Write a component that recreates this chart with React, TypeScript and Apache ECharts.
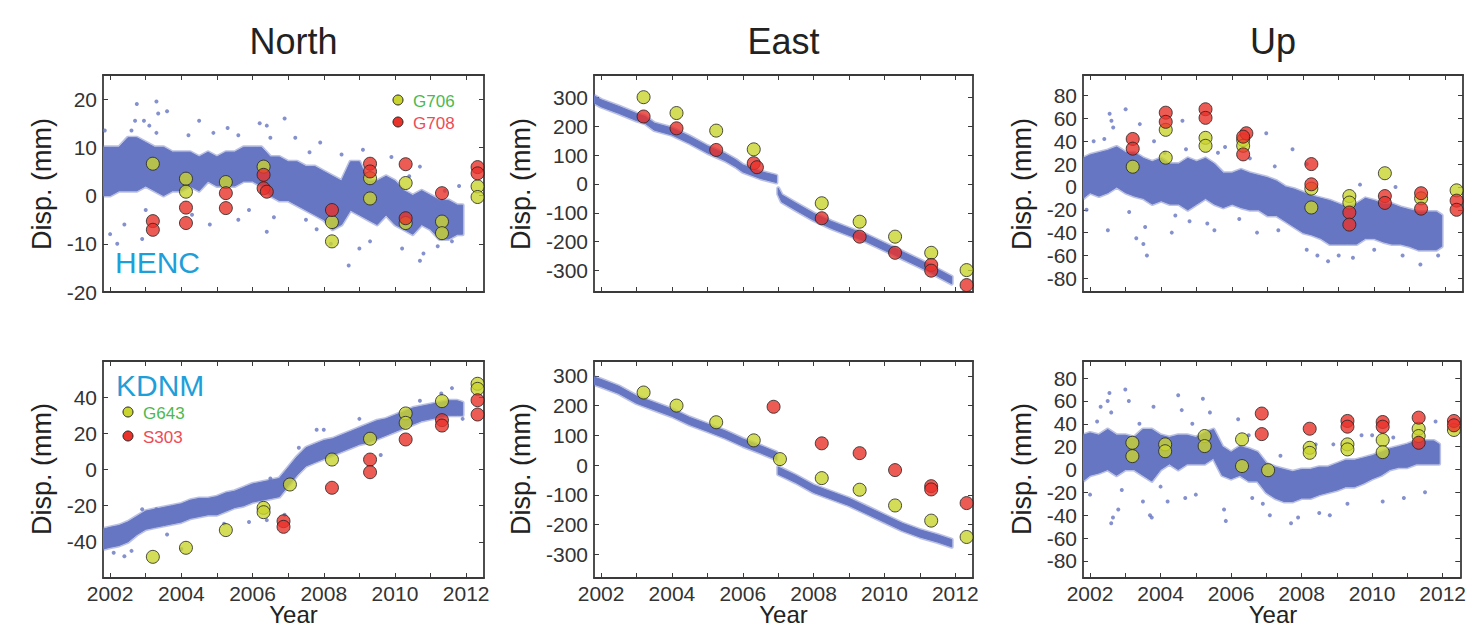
import React, { useEffect, useRef } from "react";
import * as echarts from "echarts";

// ---------- shared axis values ----------
const yearTicks = [2002, 2003, 2004, 2005, 2006, 2007, 2008, 2009, 2010, 2011, 2012];
const yearLabels = [2002, 2004, 2006, 2008, 2010, 2012];
const panelTitles = ["North", "East", "Up"];

// band sample years (dense GPS cloud envelope)
const bandYears = [2001.8, 2002.0, 2002.25, 2002.5, 2002.75, 2003.0, 2003.25, 2003.5, 2003.75, 2004.0, 2004.25, 2004.5, 2004.75, 2005.0, 2005.25, 2005.5, 2005.75, 2006.0, 2006.25, 2006.5, 2006.75, 2007.0, 2007.25, 2007.5, 2007.75, 2008.0, 2008.25, 2008.5, 2008.75, 2009.0, 2009.25, 2009.5, 2009.75, 2010.0, 2010.25, 2010.5, 2010.75, 2011.0, 2011.25, 2011.5, 2011.75, 2011.9];

// ---------- HENC North ----------
const hencNorthHi = [10, 10, 10, 12, 12, 11, 10, 10, 9, 9, 9, 8, 9, 8, 9, 9, 10, 10, 10, 8, 8, 7, 7, 6, 6, 5, 4, 3, 7, 7, 3, 3, 4, 3, 1, 0, 1, 0, -1, -1, -2, -2];
const hencNorthLo = [0, 0, 1, 1, 1, 2, 1, 0, 1, 1, 2, 1, 3, 2, 2, 2, 3, 3, 2, 0, -1, -1, -2, -3, -4, -5, -7, -6, -3, -4, -5, -6, -4, -6, -7, -8, -6, -7, -9, -9, -8, -8];
const hencNorthScatter = [[2002.75, 19], [2003.3, 19.5], [2003.35, 17], [2003.6, 17.5], [2002.7, 15.5], [2003.1, 14.5], [2004.5, 15.5], [2004.9, 13], [2005.3, 14], [2006.2, 15], [2006.4, 14.5], [2006.9, 16], [2007.2, 12], [2007.9, 11], [2008.5, 8.5], [2009.9, 8], [2010.7, 6], [2011.8, 2], [2002.4, -6], [2002.2, -10], [2002.0, -8], [2003.0, -3], [2004.3, -4], [2004.8, -6], [2005.6, -5], [2006.4, -7.5], [2006.6, -4.5], [2007.5, -5], [2007.8, -7], [2008.7, -14.5], [2009.0, -11], [2009.3, -9.5], [2010.2, -11], [2010.7, -13.5], [2010.8, -12], [2011.2, -10.5], [2011.6, -9.5], [2001.85, 13.5], [2002.9, -9], [2005.9, -3], [2008.2, -10], [2002.6, 13.5], [2003.3, 13], [2004.2, 12.5], [2005.6, 12.5], [2006.5, 12], [2002.95, 15.5], [2007.6, 9], [2009.1, 9.5], [2010.4, 4], [2011.4, 1]];
const hencNorthG706 = [[2003.2, 6.6], [2004.13, 3.5], [2004.13, 0.8], [2005.25, 2.8], [2006.31, 6.0], [2008.23, -5.5], [2008.23, -9.5], [2009.3, 3.6], [2009.3, -0.6], [2010.3, 2.6], [2010.3, -5.7], [2011.32, -5.4], [2011.32, -7.8], [2012.32, 1.9], [2012.32, -0.3]];
const hencNorthG708 = [[2003.2, -5.3], [2003.2, -7.1], [2004.13, -2.5], [2004.13, -5.7], [2005.25, 0.5], [2005.25, -2.6], [2006.31, 4.3], [2006.31, 1.5], [2006.4, 0.8], [2008.23, -3.0], [2009.3, 6.6], [2009.3, 5.0], [2010.3, 6.5], [2010.3, -4.7], [2011.32, 0.5], [2012.32, 5.9], [2012.32, 4.6]];

// ---------- HENC East ----------
const hencEastYears = [2001.8, 2002.0, 2002.5, 2003.0, 2003.25, 2003.5, 2004.0, 2004.5, 2005.0, 2005.5, 2005.8, 2006.0, 2006.5, 2006.95, 2006.97, 2007.0, 2007.1, 2007.5, 2008.0, 2008.5, 2009.0, 2009.5, 2010.0, 2010.5, 2011.0, 2011.5, 2011.9];
const hencEastHi = [306, 292, 269, 244, 234, 211, 194, 165, 132, 105, 84, 66, 43, 29, null, -15, -38, -67, -102, -130, -154, -177, -206, -235, -264, -296, -322];
const hencEastLo = [282, 268, 245, 220, 210, 187, 170, 141, 108, 81, 60, 42, 19, 5, null, -35, -62, -91, -126, -154, -178, -201, -230, -259, -288, -320, -346];
const hencEastG706 = [[2003.2, 301], [2004.13, 246], [2005.25, 185], [2006.31, 120], [2008.23, -67], [2009.3, -131], [2010.3, -183], [2011.32, -239], [2012.32, -299]];
const hencEastG708 = [[2003.2, 234], [2004.13, 193], [2005.25, 118], [2006.31, 72], [2006.4, 58], [2008.23, -119], [2009.3, -183], [2010.3, -239], [2011.32, -281], [2011.32, -301], [2012.32, -351]];

// ---------- HENC Up ----------
const hencUpHi = [25, 28, 30, 32, 35, 30, 30, 25, 22, 25, 20, 20, 25, 22, 25, 20, 12, 12, 15, 12, 10, 8, 5, 0, -2, -5, -8, -10, -12, -15, -18, -15, -10, -12, -15, -15, -18, -20, -22, -22, -22, -25];
const hencUpLo = [-10, -5, -8, -5, 0, -5, -8, -10, -15, -12, -15, -15, -20, -15, -10, -15, -18, -15, -18, -20, -20, -25, -25, -30, -35, -40, -42, -45, -50, -50, -50, -50, -45, -45, -48, -50, -50, -52, -55, -55, -55, -52];
const hencUpScatter = [[2002.55, 64], [2002.6, 58], [2002.65, 52], [2003.0, 68], [2003.4, 55], [2002.5, -38], [2003.3, -45], [2003.5, -50], [2003.6, -60], [2003.55, -35], [2004.3, -40], [2004.6, 58], [2004.8, -30], [2005.3, -32], [2005.5, -38], [2006.7, -40], [2006.96, 47], [2007.7, 33], [2008.1, -55], [2008.4, -60], [2008.7, -65], [2009.0, -60], [2009.4, -62], [2010.0, -55], [2010.8, -60], [2011.3, -68], [2011.8, -60], [2001.9, -20], [2002.1, 40], [2003.8, 40], [2004.1, 30], [2005.8, 35], [2008.1, 20], [2002.4, 42], [2003.2, 38], [2004.7, 33], [2005.6, 30], [2006.5, 25], [2007.2, 18], [2009.6, 2], [2010.6, 0], [2003.1, -22], [2004.4, -25], [2006.2, -28], [2007.3, -38]];
const hencUpG706 = [[2003.2, 17.7], [2004.13, 50], [2004.13, 25.6], [2005.25, 43], [2005.25, 36], [2006.31, 41], [2006.31, 36], [2008.23, -1.5], [2008.23, -18], [2009.3, -8], [2009.3, -13.7], [2010.3, 12], [2011.32, -10], [2012.32, -3]];
const hencUpG708 = [[2003.2, 42], [2003.2, 33.5], [2004.13, 65], [2004.13, 57], [2005.25, 68], [2005.25, 60.5], [2006.4, 47], [2006.31, 44], [2006.31, 28.5], [2008.23, 20], [2008.23, 2.3], [2009.3, -22.4], [2009.3, -33], [2010.3, -8], [2010.3, -14], [2011.32, -5.5], [2011.32, -19], [2012.32, -12], [2012.32, -20]];

// ---------- KDNM North ----------
const kdnmNorthHi = [-33, -32, -31, -29, -26, -23, -22, -21, -20, -19, -17, -16, -16, -15, -13, -12, -10, -8, -7, -6, -5, 1, 7, 12, 14, 16, 17, 19, 21, 23, 25, 27, 28, 30, 32, 34, 35, 36, 37, 38, 38, 37];
const kdnmNorthLo = [-44, -43, -42, -40, -36, -33, -32, -31, -30, -29, -27, -26, -25, -25, -23, -21, -20, -18, -17, -16, -15, -9, -3, 2, 4, 6, 8, 10, 12, 14, 15, 17, 19, 21, 23, 25, 27, 28, 29, 30, 30, 30];
const kdnmNorthScatter = [[2002.4, -48], [2002.6, -45], [2002.9, -22], [2003.3, -22], [2004.0, -44], [2005.2, -30], [2006.5, -5], [2006.9, -25], [2007.3, 12], [2007.8, 22], [2008.0, 22], [2009.0, 28], [2009.6, 8], [2010.7, 38], [2011.3, 42], [2011.6, 45], [2011.9, 28], [2005.9, -29], [2006.4, -28], [2002.1, -46], [2003.6, -36]];
const kdnmNorthG643 = [[2003.2, -48.3], [2004.13, -43.3], [2005.25, -33.5], [2006.31, -21.2], [2006.31, -23.6], [2007.05, -8.3], [2008.23, 5.5], [2009.3, 17], [2010.3, 31], [2010.3, 25.8], [2011.32, 37.8], [2012.32, 47.4], [2012.32, 44.6]];
const kdnmNorthS303 = [[2006.87, -28.6], [2006.87, -31.7], [2008.23, -10.1], [2009.3, 5.5], [2009.3, -1.5], [2010.3, 16.6], [2011.32, 27.3], [2011.32, 24.3], [2012.32, 38.3], [2012.32, 30.4]];

// ---------- KDNM East ----------
const kdnmEastYears = [2001.8, 2002.0, 2002.5, 2003.0, 2003.5, 2004.0, 2004.5, 2005.0, 2005.5, 2006.0, 2006.5, 2006.95, 2006.97, 2007.0, 2007.2, 2007.5, 2008.0, 2008.5, 2009.0, 2009.5, 2010.0, 2010.5, 2011.0, 2011.5, 2011.9];
const kdnmEastHi = [296, 288, 265, 232, 210, 188, 160, 138, 115, 88, 65, 43, null, -7, -18, -35, -68, -90, -112, -140, -168, -196, -218, -235, -251];
const kdnmEastLo = [272, 264, 241, 208, 186, 164, 136, 114, 91, 64, 41, 19, null, -31, -42, -59, -92, -114, -136, -164, -192, -220, -242, -259, -275];
const kdnmEastG643 = [[2003.2, 244], [2004.13, 200], [2005.25, 144], [2006.31, 83], [2007.05, 20], [2008.23, -44], [2009.3, -83], [2010.3, -136], [2011.32, -187], [2012.32, -242]];
const kdnmEastS303 = [[2006.87, 196], [2008.23, 73], [2009.3, 40], [2010.3, -17], [2011.32, -71], [2011.32, -82], [2012.32, -128]];

// ---------- KDNM Up ----------
const kdnmUpHi = [30, 32, 30, 35, 30, 30, 28, 35, 35, 30, 28, 30, 30, 28, 32, 35, 20, 15, 20, 18, 15, 5, 2, 0, -2, 0, 0, 2, 2, 5, 8, 8, 10, 12, 15, 18, 20, 22, 25, 25, 25, 22];
const kdnmUpLo = [-10, -5, -3, 0, -5, 0, 0, -5, -10, 0, 5, 0, 5, 5, 5, 10, -5, -8, -5, -10, -10, -20, -25, -28, -28, -25, -25, -22, -20, -18, -15, -15, -12, -8, -5, 0, 2, 2, 5, 5, 5, 5];
const kdnmUpScatter = [[2002.5, 60], [2002.55, 67], [2002.6, 50], [2002.3, 55], [2003.0, 70], [2003.1, 60], [2003.8, 55], [2004.5, 65], [2004.6, 52], [2005.2, 62], [2005.4, 50], [2006.2, 44], [2002.6, -47], [2002.65, -42], [2002.8, -35], [2002.0, -22], [2003.5, -28], [2003.7, -40], [2003.75, -42], [2004.2, -28], [2004.7, -25], [2005.0, -22], [2005.8, -35], [2005.85, -45], [2006.6, -25], [2007.1, -40], [2007.7, -47], [2007.9, -42], [2008.5, -38], [2008.8, -40], [2009.3, -30], [2010.3, -28], [2010.9, -25], [2011.5, -20], [2008.4, 22], [2008.9, 22], [2009.7, 30], [2010.0, 30], [2011.8, 42], [2002.2, 42], [2003.4, 40], [2004.9, 40], [2006.5, 30], [2007.4, 12], [2004.0, -15], [2002.9, -18], [2006.9, -30], [2010.6, 28]];
const kdnmUpG643 = [[2003.2, 23.4], [2003.2, 11.7], [2004.13, 22], [2004.13, 16], [2005.25, 29.3], [2005.25, 20.5], [2006.31, 26.4], [2006.31, 3], [2007.05, -0.6], [2008.23, 19], [2008.23, 14.6], [2009.3, 22], [2009.3, 17.6], [2010.3, 25.8], [2010.3, 15.2], [2011.32, 35.7], [2011.32, 29.3], [2012.32, 34.6]];
const kdnmUpS303 = [[2006.87, 49], [2006.87, 31], [2008.23, 35.7], [2009.3, 42.5], [2009.3, 37.5], [2010.3, 41.6], [2010.3, 37.5], [2011.32, 45.4], [2011.32, 23.4], [2012.32, 42.5], [2012.32, 38.7]];

// ---------- axis ranges / labels ----------
const northTopLabels = [-20, -10, 0, 10, 20];
const eastLabels = [-300, -200, -100, 0, 100, 200, 300];
const upLabels = [-80, -60, -40, -20, 0, 20, 40, 60, 80];
const northBottomLabels = [-40, -20, 0, 20, 40];

const FONT = "'Liberation Sans', Arial, Helvetica, sans-serif";
const BLUE = "#6676c2";
const YELLOW = "#c9d42e";
const RED = "#e8322a";
const AXIS = "#3a3a3a";

type Panel = {
  grid: { left: number; top: number; width: number; height: number };
  yMin: number; yMax: number; yLabels: number[];
  years: number[]; hi: (number | null)[]; lo: (number | null)[];
  scatter: number[][]; yellow: number[][]; red: number[][];
  showX: boolean;
};

const panels: Panel[] = [
  { grid: { left: 103, top: 75, width: 381, height: 217 }, yMin: -20, yMax: 25, yLabels: northTopLabels, years: bandYears, hi: hencNorthHi, lo: hencNorthLo, scatter: hencNorthScatter, yellow: hencNorthG706, red: hencNorthG708, showX: false },
  { grid: { left: 594, top: 75, width: 379, height: 217 }, yMin: -375, yMax: 378, yLabels: eastLabels, years: hencEastYears, hi: hencEastHi, lo: hencEastLo, scatter: [], yellow: hencEastG706, red: hencEastG708, showX: false },
  { grid: { left: 1083, top: 75, width: 380, height: 217 }, yMin: -92, yMax: 98, yLabels: upLabels, years: bandYears, hi: hencUpHi, lo: hencUpLo, scatter: hencUpScatter, yellow: hencUpG706, red: hencUpG708, showX: false },
  { grid: { left: 103, top: 361, width: 381, height: 217 }, yMin: -60, yMax: 60, yLabels: northBottomLabels, years: bandYears, hi: kdnmNorthHi, lo: kdnmNorthLo, scatter: kdnmNorthScatter, yellow: kdnmNorthG643, red: kdnmNorthS303, showX: true },
  { grid: { left: 594, top: 361, width: 379, height: 217 }, yMin: -380, yMax: 350, yLabels: eastLabels, years: kdnmEastYears, hi: kdnmEastHi, lo: kdnmEastLo, scatter: [], yellow: kdnmEastG643, red: kdnmEastS303, showX: true },
  { grid: { left: 1083, top: 361, width: 380, height: 217 }, yMin: -95, yMax: 95, yLabels: upLabels, years: bandYears, hi: kdnmUpHi, lo: kdnmUpLo, scatter: kdnmUpScatter, yellow: kdnmUpG643, red: kdnmUpS303, showX: true },
];

// split each envelope into contiguous runs (a null marks a data gap)
function bandRuns(p: Panel) {
  const runs: { x: number; lo: number; hi: number }[][] = [];
  let cur: { x: number; lo: number; hi: number }[] = [];
  p.years.forEach((x, k) => {
    const lo = p.lo[k], hi = p.hi[k];
    if (lo == null || hi == null) {
      if (cur.length) runs.push(cur);
      cur = [];
    } else cur.push({ x, lo, hi });
  });
  if (cur.length) runs.push(cur);
  return runs;
}

function buildOption() {
  const grids: any[] = [];
  const xAxes: any[] = [];
  const yAxes: any[] = [];
  const series: any[] = [];
  const fmt = (v: number) => String(v);

  panels.forEach((p, i) => {
    grids.push({ ...p.grid, containLabel: false });
    const lineStyle = { color: AXIS, width: 1.8 };
    const tickStyle = { color: AXIS, width: 1 };
    xAxes.push({
      type: "value", gridIndex: i, min: 2001.8, max: 2012.5, position: "bottom",
      axisLine: { show: true, onZero: false, lineStyle },
      axisTick: { show: true, inside: true, length: 5, customValues: yearTicks, lineStyle: tickStyle },
      axisLabel: { show: p.showX, customValues: yearLabels, formatter: fmt, fontSize: 21, color: "#333", margin: 5, fontFamily: FONT },
      splitLine: { show: false },
    });
    xAxes.push({
      type: "value", gridIndex: i, min: 2001.8, max: 2012.5, position: "top",
      axisLine: { show: true, onZero: false, lineStyle },
      axisTick: { show: true, inside: true, length: 5, customValues: yearTicks, lineStyle: tickStyle },
      axisLabel: { show: false },
      splitLine: { show: false },
    });
    yAxes.push({
      type: "value", gridIndex: i, min: p.yMin, max: p.yMax, position: "left",
      axisLine: { show: true, onZero: false, lineStyle },
      axisTick: { show: true, inside: true, length: 5, customValues: p.yLabels, lineStyle: tickStyle },
      axisLabel: { show: true, customValues: p.yLabels, formatter: fmt, fontSize: 21, color: "#333", margin: 6, fontFamily: FONT },
      splitLine: { show: false },
    });
    yAxes.push({
      type: "value", gridIndex: i, min: p.yMin, max: p.yMax, position: "right",
      axisLine: { show: true, onZero: false, lineStyle },
      axisTick: { show: true, inside: true, length: 5, customValues: p.yLabels, lineStyle: tickStyle },
      axisLabel: { show: false },
      splitLine: { show: false },
    });

    const runs = bandRuns(p);
    series.push({
      type: "custom", xAxisIndex: 2 * i, yAxisIndex: 2 * i, silent: true, z: 1, clip: true,
      encode: { x: 0, y: 1 },
      data: runs.map((run, r) => [run[0].x, run[0].lo, r]),
      renderItem: (_params: any, api: any) => {
        const run = runs[api.value(2)];
        const pts: number[][] = [];
        run.forEach((s) => pts.push(api.coord([s.x, s.lo])));
        for (let k = run.length - 1; k >= 0; k--) pts.push(api.coord([run[k].x, run[k].hi]));
        return {
          type: "group",
          children: [
            { type: "polygon", shape: { points: pts }, style: { fill: BLUE, stroke: BLUE, lineWidth: 4, opacity: 0.45, lineJoin: "round" } },
            { type: "polygon", shape: { points: pts }, style: { fill: BLUE, stroke: BLUE, lineWidth: 1 } },
          ],
        };
      },
    });
    if (p.scatter.length) {
      series.push({
        type: "scatter", xAxisIndex: 2 * i, yAxisIndex: 2 * i, silent: true, z: 2,
        symbolSize: 4, itemStyle: { color: BLUE }, data: p.scatter,
      });
    }
    series.push({
      type: "scatter", xAxisIndex: 2 * i, yAxisIndex: 2 * i, silent: true, z: 3, clip: false,
      symbolSize: 13, itemStyle: { color: YELLOW, borderColor: "#222", borderWidth: 1 }, data: p.yellow,
    });
    series.push({
      type: "scatter", xAxisIndex: 2 * i, yAxisIndex: 2 * i, silent: true, z: 4, clip: false,
      symbolSize: 13, itemStyle: { color: RED, borderColor: "#222", borderWidth: 1 }, data: p.red,
    });
  });

  const graphics: any[] = [];
  const titleX = [293.5, 783.5, 1273];
  panelTitles.forEach((t, i) => {
    graphics.push({ type: "text", x: titleX[i], y: 41, style: { text: t, fill: "#222", font: `36px ${FONT}`, textAlign: "center", textVerticalAlign: "middle" } });
    graphics.push({ type: "text", x: titleX[i], y: 626, style: { text: "Year", fill: "#222", font: `24px ${FONT}`, textAlign: "center", textVerticalAlign: "bottom" } });
  });
  const nameX = [42, 521, 1022];
  [184, 469].forEach((cy) => {
    nameX.forEach((cx) => {
      graphics.push({ type: "text", x: cx, y: cy, rotation: Math.PI / 2, style: { text: "Disp. (mm)", fill: "#222", font: `27px ${FONT}`, textAlign: "center", textVerticalAlign: "middle" } });
    });
  });
  graphics.push({ type: "text", x: 115, y: 262, style: { text: "HENC", fill: "#1f9fd9", font: `30px ${FONT}`, textAlign: "left", textVerticalAlign: "middle" } });
  graphics.push({ type: "text", x: 116, y: 385, style: { text: "KDNM", fill: "#1f9fd9", font: `30px ${FONT}`, textAlign: "left", textVerticalAlign: "middle" } });

  const legendItems = [
    { cx: 398, cy: 100, fill: YELLOW, text: "G706", color: "#4cb94f" },
    { cx: 398, cy: 122, fill: RED, text: "G708", color: "#ee4b55" },
    { cx: 128, cy: 412, fill: YELLOW, text: "G643", color: "#4cb94f" },
    { cx: 128, cy: 436, fill: RED, text: "S303", color: "#ee4b55" },
  ];
  legendItems.forEach((l) => {
    graphics.push({ type: "circle", shape: { cx: l.cx, cy: l.cy, r: 5 }, style: { fill: l.fill, stroke: "#222", lineWidth: 1 }, z: 10 });
    graphics.push({ type: "text", x: l.cx + 15, y: l.cy + 1, style: { text: l.text, fill: l.color, font: `17px ${FONT}`, textAlign: "left", textVerticalAlign: "middle" }, z: 10 });
  });

  return {
    animation: false,
    backgroundColor: "#ffffff",
    grid: grids,
    xAxis: xAxes,
    yAxis: yAxes,
    series,
    graphic: graphics,
  };
}

export default function App() {
  const ref = useRef<HTMLDivElement>(null);
  useEffect(() => {
    const chart = echarts.init(ref.current!, null, { renderer: "svg" });
    chart.setOption(buildOption() as any);
    return () => chart.dispose();
  }, []);
  return <div ref={ref} style={{ position: "fixed", left: 0, top: 0, width: 1469, height: 631, background: "#fff" }} />;
}
